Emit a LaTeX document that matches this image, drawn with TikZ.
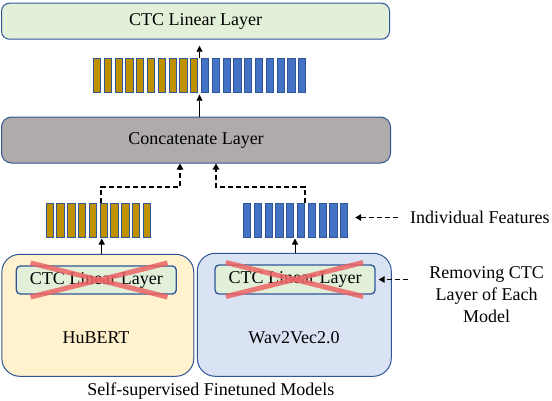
\documentclass[tikz,border=0pt]{standalone}
\usepackage{fontspec}
\setmainfont{Liberation Serif}
\newfontfamily\tnr{Liberation Serif}
\usetikzlibrary{arrows.meta,calc}
\definecolor{bord}{HTML}{2F5597}
\definecolor{lgreen}{HTML}{E2F0D9}
\definecolor{lgray}{HTML}{AFABAB}
\definecolor{lyellow}{HTML}{FFF2CC}
\definecolor{lblue}{HTML}{DAE3F3}
\definecolor{gold}{HTML}{BF9000}
\definecolor{barblue}{HTML}{4472C4}
\definecolor{crossred}{HTML}{EC6464}
\begin{document}
\begin{tikzpicture}[x=1pt,y=-1pt,
  lbl/.style={font=\tnr\fontsize{18}{22}\selectfont},
  layerbox/.style={draw=bord, line width=1pt, inner sep=0pt, lbl},
  barnode/.style={draw=bord, line width=0.8pt, minimum width=7.3pt, minimum height=34pt, inner sep=0pt},
  arr/.style={-{Triangle[width=6pt,length=6pt]}, line width=0.8pt},
  darr/.style={-{Triangle[width=6.5pt,length=6pt]}, line width=1.6pt, dash pattern=on 5pt off 3pt},
  crossline/.style={draw=crossred, line width=5pt, opacity=0.85}
]
\useasboundingbox (0,0) rectangle (552,400);

% top layer
\node[layerbox, fill=lgreen, rounded corners=8pt, minimum width=388pt, minimum height=36pt] (top) at (195.5,21.2) {CTC Linear Layer};

% concatenate layer
\node[layerbox, fill=lgray, rounded corners=10pt, minimum width=389pt, minimum height=46pt] (concat) at (196,140) {Concatenate Layer};

% concatenated bars
\foreach \i in {1,...,10}{
  \pgfmathsetmacro\xx{93.3+3.65+(\i-1)*10.8}
  \node[barnode, fill=gold] (cb\i) at (\xx,75.5) {};
}
\foreach \i in {11,...,20}{
  \pgfmathsetmacro\xx{93.3+3.65+(\i-1)*10.8}
  \node[barnode, fill=barblue] (cb\i) at (\xx,75.5) {};
}
% individual bars
\foreach \i in {1,...,10}{
  \pgfmathsetmacro\xx{46+3.65+(\i-1)*10.8}
  \node[barnode, fill=gold] (hb\i) at (\xx,220) {};
  \pgfmathsetmacro\xy{243.3+3.65+(\i-1)*10.8}
  \node[barnode, fill=barblue] (wb\i) at (\xy,220) {};
}

% model boxes
\node[layerbox, fill=lyellow, rounded corners=18pt, minimum width=192pt, minimum height=122pt] (hub) at (97.8,315.3) {};
\node[layerbox, fill=lblue, rounded corners=18pt, minimum width=194pt, minimum height=123pt] (wav) at (294.3,314.8) {};

\node[layerbox, line width=1.3pt, fill=lgreen, rounded corners=4pt, minimum width=160pt, minimum height=28pt] (inL) at (96.3,280) {CTC Linear Layer};
\node[layerbox, line width=1.3pt, fill=lgreen, rounded corners=4pt, minimum width=160pt, minimum height=29pt] (inR) at (295,279.5) {CTC Linear Layer};

\draw[crossline] ($(inL.west)+(15,-17)$) -- ($(inL.east)+(-9.5,17)$);
\draw[crossline] ($(inL.west)+(15,17)$) -- ($(inL.east)+(-9.5,-17)$);
\draw[crossline] ($(inR.west)+(11.5,-17)$) -- ($(inR.east)+(-12.5,17)$);
\draw[crossline] ($(inR.west)+(11.5,17)$) -- ($(inR.east)+(-12.5,-17)$);

\node[lbl] (hubl) at (96,338) {HuBERT};
\node[lbl] (wavl) at (294,338) {Wav2Vec2.0};
\node[lbl] (ssl) at (210.8,391) {Self-supervised Finetuned Models};

\node[lbl, anchor=west, inner sep=0pt] (ind) at (410,217.5) {Individual Features};
\node[lbl, align=center, inner sep=0pt] (rem) at (486.7,294.5) {Removing CTC\\Layer of Each\\Model};

% connectors
\coordinate (cbt) at (199.5,58.3);
\coordinate (cbb) at (199.5,92.7);
\draw[arr, shorten >=6pt] (cbt) -- (cbt |- top.south);
\draw[arr, shorten >=2pt] (cbb |- concat.north) -- (cbb);

\coordinate (hbs) at (100.8,203);
\coordinate (wbs) at (305,203);
\coordinate (jl) at (180,186.7);
\coordinate (jr) at (216,186.7);
\draw[darr] (hbs) |- (jl) -- (jl |- concat.south);
\draw[darr] (wbs) |- (jr) -- (jr |- concat.south);

\coordinate (hbb) at (101.7,237);
\coordinate (wbb) at (295,237);
\draw[arr, shorten >=1.5pt] (hbb |- hub.north) -- (hbb);
\draw[arr, shorten >=1.5pt] (wbb |- wav.north) -- (wbb);

\draw[darr, shorten <=12pt, shorten >=7pt] (ind.west) -- (ind.west -| wb10.east);
\coordinate (rems) at (408,279.5);
\draw[darr, shorten >=3pt] (rems) -- (inR.east);
\end{tikzpicture}
\end{document}
